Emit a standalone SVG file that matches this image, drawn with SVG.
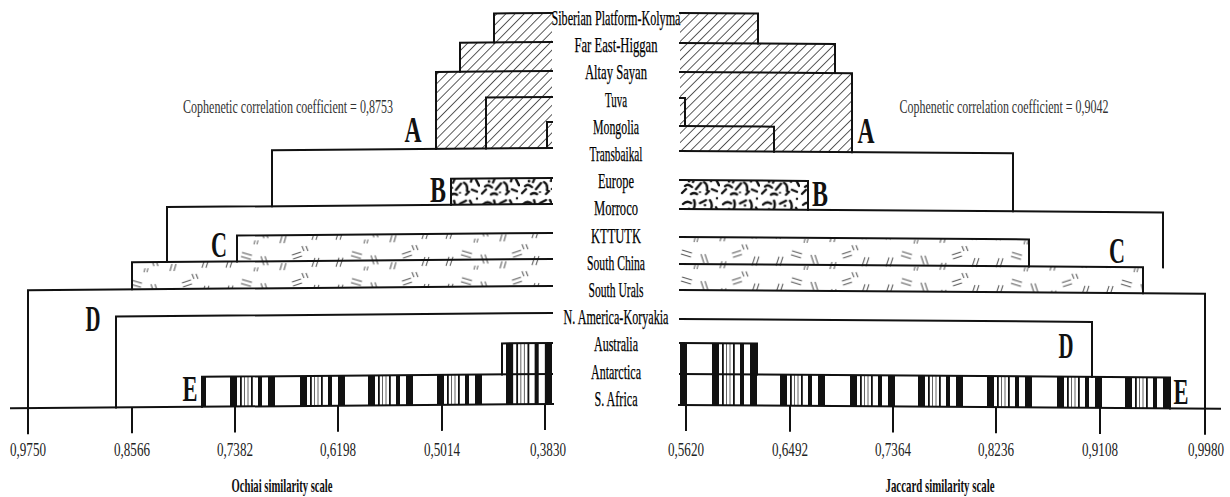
<svg xmlns="http://www.w3.org/2000/svg" xmlns:xlink="http://www.w3.org/1999/xlink" width="1230" height="497" viewBox="0 0 1230 497">
<style>
.ln{fill:none;stroke:#111;stroke-width:2;stroke-linejoin:miter;stroke-linecap:square}
.tk{fill:none;stroke:#111;stroke-width:2}
.lbl{font-family:"Liberation Serif","Times New Roman",serif;font-size:22px;fill:#000;stroke:#000;stroke-width:0.25;text-anchor:middle}
.let{font-family:"Liberation Serif","Times New Roman",serif;font-size:35px;font-weight:bold;fill:#111;text-anchor:middle}
.num{font-family:"Liberation Serif","Times New Roman",serif;font-size:19px;fill:#222;text-anchor:middle}
.coef{font-family:"Liberation Serif","Times New Roman",serif;font-size:18px;fill:#333;text-anchor:middle}
.ttl{font-family:"Liberation Serif","Times New Roman",serif;font-size:19px;font-weight:bold;fill:#111;text-anchor:middle}
</style>
<defs>
<pattern id="hatchA" width="6.5" height="6.5" patternUnits="userSpaceOnUse" patternTransform="rotate(45)">
<line x1="3.25" y1="0" x2="3.25" y2="6.5" stroke="#333" stroke-width="0.8"/>
</pattern>
<pattern id="brecB" width="40" height="28" patternUnits="userSpaceOnUse">
<rect width="40" height="28" fill="#fff"/>
<path d="M3 8 q4 -4 8 -1 M14 4 q2 5 -1 10 M20 7 l6 -3 M30 4 q3 4 1 9 M36 11 l3 6 M5 18 q3 -3 7 1 M16 21 l5 -6 M24 14 q4 2 3 8 M32 21 l5 2 M2 25 l4 -4 M11 26 q3 -2 6 0 M26 26 l3 -3" stroke="#111" stroke-width="2.4" stroke-linecap="round" fill="none"/>
<circle cx="9" cy="13" r="1.4" fill="#111"/><circle cx="25" cy="9" r="1.3" fill="#111"/><circle cx="37" cy="2" r="1.2" fill="#111"/><circle cx="20" cy="24" r="1.1" fill="#111"/>
</pattern>
<pattern id="dashC" width="110" height="27" patternUnits="userSpaceOnUse">
<path d="M6 22 l3 -9 M10 22 l3 -9 M22 7 l10 3 M21 11 l10 3 M44 20 l-3 -9 M48 20 l-3 -9 M60 25 l2 -7 M64 25 l2 -7 M72 10 l9 -3 M73 14 l9 -3 M92 22 l3 -9 M96 22 l3 -9 M84 6 l-2 -5 M88 6 l-2 -5 M34 26 l1 -4 M37 26 l1 -4" stroke="#555" stroke-width="1" fill="none"/>
</pattern>
<symbol id="bars" viewBox="0 0 45 10" preserveAspectRatio="none">
<rect x="0" y="0" width="7" height="10" fill="#111"/>
<rect x="10" y="0" width="1.8" height="10" fill="#111"/>
<rect x="14" y="0" width="1" height="10" fill="#666"/>
<rect x="17.5" y="0" width="1" height="10" fill="#666"/>
<rect x="21" y="0" width="1.8" height="10" fill="#111"/>
<rect x="28" y="0" width="4" height="10" fill="#111"/>
<rect x="38" y="0" width="7" height="10" fill="#111"/>
</symbol>
</defs>
<rect width="1230" height="497" fill="#fff"/>

<g id="left-tree" transform="matrix(1,-0.008,0,1,0,4.416)">
<g id="left-clusters">
<polygon id="left-A" points="494,13 552,13 552,148 436,148 436,71 460,71 460,42 494,42" fill="url(#hatchA)"/>
<rect id="left-B" x="451" y="178" width="101" height="26" fill="url(#brecB)"/>
<rect id="left-C1" x="237" y="233" width="315" height="26" fill="url(#dashC)"/>
<rect id="left-C2" x="132" y="259" width="420" height="27" fill="url(#dashC)"/>
<g id="left-E">
<rect x="202" y="374" width="4" height="30" fill="#111"/>
<use href="#bars" x="230" y="374" width="45" height="30"/>
<use href="#bars" x="300" y="374" width="45" height="30"/>
<use href="#bars" x="368" y="374" width="45" height="30"/>
<use href="#bars" x="437" y="374" width="45" height="30"/>
<use href="#bars" x="506" y="343" width="46" height="61"/>
</g>
</g>
<g id="left-connectors">
<path class="ln" d="M552 13 H494 V42"/>
<path class="ln" d="M552 42 H460 V71"/>
<path class="ln" d="M552 71 H436 V148"/>
<path class="ln" d="M552 97 H486 V148"/>
<path class="ln" d="M552 122 H547 V148"/>
<path class="ln" d="M552 148 H272 V204"/>
<path class="ln" d="M552 178 H451 V204"/>
<path class="ln" d="M552 204 H167 V259"/>
<path class="ln" d="M552 233 H237 V259"/>
<path class="ln" d="M552 259 H132 V286"/>
<path class="ln" d="M552 286 H28 V404"/>
<path class="ln" d="M552 313 H116 V404"/>
<path class="ln" d="M552 343 H502 V374"/>
<path class="ln" d="M552 374 H202 V404"/>
</g>
<g id="left-axis">
<path class="ln" d="M11 404 H553"/>
<path class="tk" d="M28 404 V430 M132 404 V430 M235 404 V430 M338 404 V430 M442 404 V430 M545 404 V430"/>
</g>
</g>

<g id="right-tree" transform="matrix(1,0.007,0,1,0,-4.76)">
<g id="right-clusters">
<polygon id="right-A" points="680,13 758,13 758,43 835,43 835,72 852,72 852,151 680,151" fill="url(#hatchA)"/>
<rect id="right-B" x="680" y="180" width="128" height="29" fill="url(#brecB)"/>
<rect id="right-C1" x="680" y="237" width="349" height="27" fill="url(#dashC)"/>
<rect id="right-C2" x="680" y="264" width="463" height="26" fill="url(#dashC)"/>
<g id="right-E">
<rect x="680" y="343" width="7" height="62" fill="#111"/>
<use href="#bars" x="712" y="343" width="45" height="62"/>
<use href="#bars" x="780" y="374" width="45" height="31"/>
<use href="#bars" x="850" y="374" width="45" height="31"/>
<use href="#bars" x="918" y="374" width="45" height="31"/>
<use href="#bars" x="987" y="374" width="45" height="31"/>
<use href="#bars" x="1057" y="374" width="45" height="31"/>
<use href="#bars" x="1125" y="374" width="45" height="31"/>
</g>
</g>
<g id="right-connectors">
<path class="ln" d="M680 13 H758 V43"/>
<path class="ln" d="M680 43 H835 V72"/>
<path class="ln" d="M680 72 H852 V151"/>
<path class="ln" d="M680 98 H685 V126"/>
<path class="ln" d="M680 126 H774 V151"/>
<path class="ln" d="M680 151 H1013 V209"/>
<path class="ln" d="M680 180 H808 V209"/>
<path class="ln" d="M680 209 H1163 V264"/>
<path class="ln" d="M680 237 H1029 V264"/>
<path class="ln" d="M680 264 H1143 V290"/>
<path class="ln" d="M680 290 H1205 V405"/>
<path class="ln" d="M680 319 H1092 V374"/>
<path class="ln" d="M680 343 H757 V374"/>
<path class="ln" d="M680 374 H1170 V405"/>
</g>
<g id="right-axis">
<path class="ln" d="M679 405 H1220"/>
<path class="tk" d="M686 405 V431 M790 405 V431 M893 405 V431 M996 405 V431 M1100 405 V431 M1205 405 V431"/>
</g>
</g>

<g id="labels">
<g id="n-siberian"><text class="lbl" x="616" y="25" textLength="129" lengthAdjust="spacingAndGlyphs">Siberian Platform-Kolyma</text></g>
<g id="n-fareast"><text class="lbl" x="616" y="52" textLength="83" lengthAdjust="spacingAndGlyphs">Far East-Higgan</text></g>
<g id="n-altay"><text class="lbl" x="616" y="79" textLength="62" lengthAdjust="spacingAndGlyphs">Altay Sayan</text></g>
<g id="n-tuva"><text class="lbl" x="616" y="107" textLength="22" lengthAdjust="spacingAndGlyphs">Tuva</text></g>
<g id="n-mongolia"><text class="lbl" x="616" y="134" textLength="46" lengthAdjust="spacingAndGlyphs">Mongolia</text></g>
<g id="n-transbaikal"><text class="lbl" x="616" y="161" textLength="53" lengthAdjust="spacingAndGlyphs">Transbaikal</text></g>
<g id="n-europe"><text class="lbl" x="616" y="188" textLength="36" lengthAdjust="spacingAndGlyphs">Europe</text></g>
<g id="n-morroco"><text class="lbl" x="616" y="215" textLength="44" lengthAdjust="spacingAndGlyphs">Morroco</text></g>
<g id="n-kttutk"><text class="lbl" x="616" y="243" textLength="50" lengthAdjust="spacingAndGlyphs">KTTUTK</text></g>
<g id="n-southchina"><text class="lbl" x="616" y="270" textLength="58" lengthAdjust="spacingAndGlyphs">South China</text></g>
<g id="n-southurals"><text class="lbl" x="616" y="297" textLength="55" lengthAdjust="spacingAndGlyphs">South Urals</text></g>
<g id="n-namerica"><text class="lbl" x="616" y="324" textLength="105" lengthAdjust="spacingAndGlyphs">N. America-Koryakia</text></g>
<g id="n-australia"><text class="lbl" x="616" y="351" textLength="44" lengthAdjust="spacingAndGlyphs">Australia</text></g>
<g id="n-antarctica"><text class="lbl" x="616" y="379" textLength="50" lengthAdjust="spacingAndGlyphs">Antarctica</text></g>
<g id="n-safrica"><text class="lbl" x="616" y="406" textLength="43" lengthAdjust="spacingAndGlyphs">S. Africa</text></g>
</g>

<g id="cluster-letters">
<text class="let" x="413" y="142" textLength="17" lengthAdjust="spacingAndGlyphs">A</text>
<text class="let" x="438" y="202" textLength="16" lengthAdjust="spacingAndGlyphs">B</text>
<text class="let" x="219" y="257" textLength="16" lengthAdjust="spacingAndGlyphs">C</text>
<text class="let" x="93" y="331" textLength="15" lengthAdjust="spacingAndGlyphs">D</text>
<text class="let" x="190" y="401" textLength="15" lengthAdjust="spacingAndGlyphs">E</text>
<text class="let" x="866" y="143" textLength="17" lengthAdjust="spacingAndGlyphs">A</text>
<text class="let" x="820" y="206" textLength="16" lengthAdjust="spacingAndGlyphs">B</text>
<text class="let" x="1117" y="263" textLength="16" lengthAdjust="spacingAndGlyphs">C</text>
<text class="let" x="1066" y="358" textLength="15" lengthAdjust="spacingAndGlyphs">D</text>
<text class="let" x="1181" y="404" textLength="15" lengthAdjust="spacingAndGlyphs">E</text>
</g>

<g id="annotations">
<text class="coef" transform="scale(0.7,1)" x="411.43" y="113" textLength="300" lengthAdjust="spacingAndGlyphs">Cophenetic correlation coefficient = 0,8753</text>
<text class="coef" transform="scale(0.7,1)" x="1434.29" y="113" textLength="298.6" lengthAdjust="spacingAndGlyphs">Cophenetic correlation coefficient = 0,9042</text>
</g>

<g id="scale-labels">
<g transform="scale(0.7,1)">
<text class="num" x="40" y="456" textLength="51.4" lengthAdjust="spacingAndGlyphs">0,9750</text>
<text class="num" x="188.57" y="456" textLength="51.4" lengthAdjust="spacingAndGlyphs">0,8566</text>
<text class="num" x="335.71" y="456" textLength="51.4" lengthAdjust="spacingAndGlyphs">0,7382</text>
<text class="num" x="482.86" y="456" textLength="51.4" lengthAdjust="spacingAndGlyphs">0,6198</text>
<text class="num" x="631.43" y="456" textLength="51.4" lengthAdjust="spacingAndGlyphs">0,5014</text>
<text class="num" x="782.86" y="456" textLength="51.4" lengthAdjust="spacingAndGlyphs">0,3830</text>
<text class="num" x="980" y="456" textLength="51.4" lengthAdjust="spacingAndGlyphs">0,5620</text>
<text class="num" x="1128.57" y="456" textLength="51.4" lengthAdjust="spacingAndGlyphs">0,6492</text>
<text class="num" x="1275.71" y="456" textLength="51.4" lengthAdjust="spacingAndGlyphs">0,7364</text>
<text class="num" x="1422.86" y="456" textLength="51.4" lengthAdjust="spacingAndGlyphs">0,8236</text>
<text class="num" x="1571.43" y="456" textLength="51.4" lengthAdjust="spacingAndGlyphs">0,9108</text>
<text class="num" x="1722.86" y="456" textLength="51.4" lengthAdjust="spacingAndGlyphs">0,9980</text>
</g>
<text class="ttl" x="282" y="492" textLength="101" lengthAdjust="spacingAndGlyphs">Ochiai similarity scale</text>
<text class="ttl" x="940" y="492" textLength="109" lengthAdjust="spacingAndGlyphs">Jaccard similarity scale</text>
</g>
</svg>
